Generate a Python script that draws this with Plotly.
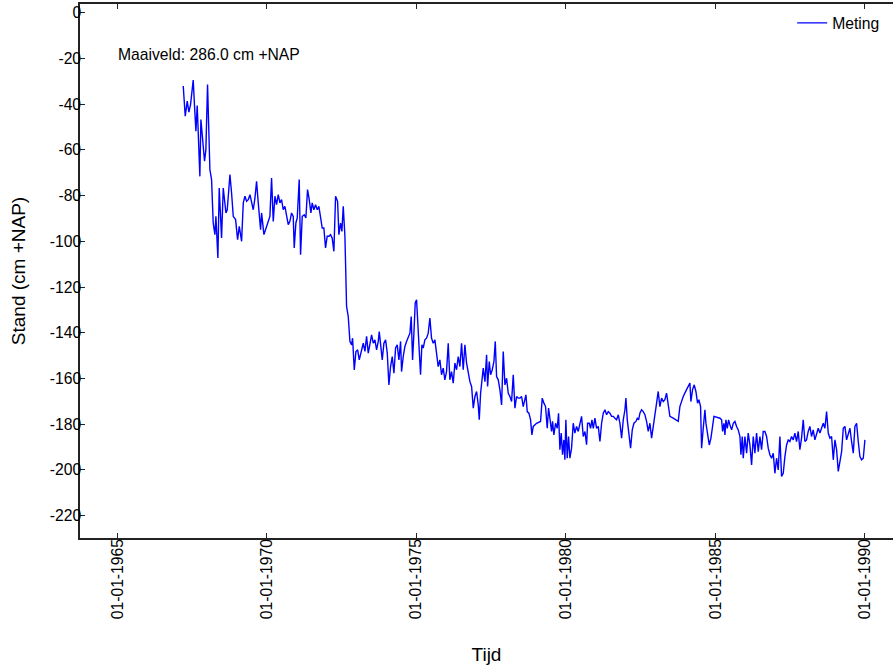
import datetime as dt
import plotly.graph_objects as go

years = [
    1967.202, 1967.269, 1967.336, 1967.391, 1967.447, 1967.536, 1967.581, 1967.626, 1967.670, 1967.759,
    1967.793, 1967.849, 1967.915, 1967.960, 1968.016, 1968.094, 1968.150, 1968.205, 1968.261, 1968.295,
    1968.361, 1968.406, 1968.484, 1968.540, 1968.595, 1968.629, 1968.673, 1968.763, 1968.818, 1968.874,
    1968.952, 1969.019, 1969.075, 1969.153, 1969.209, 1969.264, 1969.320, 1969.376, 1969.432, 1969.487,
    1969.543, 1969.599, 1969.654, 1969.710, 1969.788, 1969.822, 1969.900, 1969.989, 1970.100,
    1970.156, 1970.212, 1970.268, 1970.323, 1970.379, 1970.435, 1970.491, 1970.546, 1970.602, 1970.658,
    1970.714, 1970.769, 1970.825, 1970.881, 1970.914, 1970.970, 1971.015, 1971.081, 1971.126, 1971.182,
    1971.249, 1971.304, 1971.360, 1971.416, 1971.472, 1971.516, 1971.572, 1971.628, 1971.684, 1971.739,
    1971.795, 1971.851, 1971.906, 1971.962, 1972.018, 1972.074, 1972.129, 1972.185, 1972.241, 1972.297,
    1972.364, 1972.408, 1972.464, 1972.508, 1972.553, 1972.609, 1972.664, 1972.720, 1972.776, 1972.832,
    1972.865, 1972.921, 1972.977, 1973.033, 1973.088,
    1973.166, 1973.222, 1973.278, 1973.333, 1973.389, 1973.445, 1973.501, 1973.556, 1973.612, 1973.668,
    1973.724, 1973.757, 1973.802, 1973.857, 1973.913, 1973.969, 1974.025, 1974.080, 1974.136, 1974.192,
    1974.248, 1974.303, 1974.359, 1974.415, 1974.471, 1974.504, 1974.560, 1974.616, 1974.671, 1974.727,
    1974.783, 1974.827, 1974.872, 1974.917, 1974.961, 1975.006, 1975.050, 1975.095, 1975.139, 1975.184,
    1975.229, 1975.284, 1975.340, 1975.396, 1975.452, 1975.507, 1975.563, 1975.619, 1975.675, 1975.730,
    1975.786, 1975.842, 1975.898, 1975.953, 1976.009, 1976.065, 1976.120, 1976.176, 1976.232, 1976.288,
    1976.343, 1976.399, 1976.455, 1976.511, 1976.566, 1976.622, 1976.678, 1976.734, 1976.789, 1976.845,
    1976.901, 1976.957, 1977.012, 1977.068, 1977.101, 1977.146, 1977.202, 1977.235, 1977.291, 1977.347,
    1977.380, 1977.436, 1977.481, 1977.536, 1977.592, 1977.637, 1977.681, 1977.737, 1977.793, 1977.849,
    1977.904, 1977.960, 1978.016, 1978.072, 1978.127,
    1978.183, 1978.239, 1978.295, 1978.350, 1978.406, 1978.462, 1978.518, 1978.573, 1978.629, 1978.663,
    1978.707, 1978.763, 1978.819, 1978.863, 1978.908, 1979.019, 1979.153, 1979.209, 1979.265, 1979.320,
    1979.376, 1979.421, 1979.465, 1979.521, 1979.554, 1979.599, 1979.655, 1979.711, 1979.755, 1979.800,
    1979.844, 1979.889, 1979.933, 1979.967, 1980.000, 1980.045, 1980.090, 1980.134, 1980.190, 1980.246,
    1980.301, 1980.357, 1980.413, 1980.469, 1980.524, 1980.580, 1980.636, 1980.692, 1980.725, 1980.781,
    1980.825, 1980.870, 1980.915, 1980.970, 1981.026, 1981.082, 1981.137, 1981.193, 1981.249, 1981.305,
    1981.360, 1981.416, 1981.472, 1981.528, 1981.583, 1981.639, 1981.695, 1981.751, 1981.806, 1981.862,
    1981.918, 1981.974, 1982.007, 1982.052, 1982.107, 1982.163, 1982.219, 1982.275, 1982.342, 1982.386,
    1982.431, 1982.475, 1982.531, 1982.587, 1982.643, 1982.698, 1982.754, 1982.810, 1982.866, 1982.921,
    1982.977, 1983.033, 1983.088, 1983.144, 1983.200, 1983.256, 1983.311, 1983.367, 1983.423, 1983.479,
    1983.590, 1983.702, 1983.758, 1983.813, 1983.925, 1984.036, 1984.148,
    1984.181, 1984.237, 1984.292, 1984.348, 1984.404, 1984.448, 1984.504, 1984.538, 1984.593, 1984.649,
    1984.683, 1984.738, 1984.794, 1984.850, 1984.905, 1984.950, 1985.151, 1985.207, 1985.240, 1985.285,
    1985.318, 1985.351, 1985.396, 1985.441, 1985.485, 1985.541, 1985.597, 1985.652, 1985.708, 1985.764,
    1985.820, 1985.853, 1985.898, 1985.931, 1985.987, 1986.043, 1986.098, 1986.154, 1986.210, 1986.266,
    1986.321, 1986.377, 1986.433, 1986.489, 1986.544, 1986.600, 1986.656, 1986.712, 1986.767, 1986.823,
    1986.879, 1986.935, 1986.990, 1987.046, 1987.102, 1987.158, 1987.213, 1987.269, 1987.325, 1987.381,
    1987.436, 1987.492, 1987.548, 1987.603, 1987.659, 1987.715, 1987.771, 1987.826, 1987.882, 1987.938,
    1987.994, 1988.049, 1988.105, 1988.161, 1988.216, 1988.272, 1988.328, 1988.384, 1988.439, 1988.495,
    1988.551, 1988.607, 1988.662, 1988.718, 1988.774, 1988.830, 1988.885, 1988.941, 1988.997, 1989.053,
    1989.108, 1989.164, 1989.220, 1989.276, 1989.331, 1989.387, 1989.443, 1989.499, 1989.554, 1989.610,
    1989.666, 1989.722, 1989.777, 1989.833, 1989.889, 1989.945, 1990.000,
]

# Water level in cm +NAP
stand = [
    -32.1, -45.3, -38.7, -43.5, -40.2, -29.5, -40.9, -51.9, -40.6, -71.6,
    -46.7, -54.0, -65.0, -59.9, -31.4, -68.6, -73.0, -92.0, -97.1, -89.1,
    -107.3, -76.7, -98.6, -76.7, -83.2, -87.6, -86.2, -70.8, -78.9, -89.1,
    -90.5, -99.3, -93.5, -100.0, -83.2, -80.3, -82.5, -81.8, -79.6, -82.5,
    -86.2, -81.1, -73.8, -83.2, -94.9, -87.6, -97.1, -93.5, -89.1,
    -72.3, -91.3, -80.3, -84.0, -79.6, -83.2, -81.8, -86.2, -84.7, -89.8,
    -92.7, -91.3, -87.6, -89.1, -102.9, -92.0, -89.8, -73.0, -105.9, -89.1,
    -88.4, -89.8, -77.4, -81.8, -87.6, -83.2, -86.2, -84.0, -86.2, -84.7,
    -89.8, -94.2, -94.2, -102.9, -97.8, -97.8, -97.1, -98.6, -104.4, -80.3,
    -82.5, -97.1, -92.0, -95.7, -84.7, -97.8, -128.5, -132.9, -143.8, -145.3,
    -142.4, -156.3, -148.2, -147.5, -151.9,
    -146.7, -144.6, -148.2, -141.6, -148.9, -143.8, -140.9, -144.6, -143.1, -147.5,
    -143.8, -139.5, -146.7, -151.9, -144.6, -143.1, -148.9, -162.8, -154.8, -150.4,
    -157.7, -146.7, -145.3, -151.9, -143.8, -157.0, -150.4, -146.0, -143.8, -141.6,
    -140.2, -132.9, -151.9, -140.2, -127.0, -125.6, -135.1, -144.6, -158.4, -145.3,
    -146.7, -143.1, -142.4, -140.2, -133.6, -142.4, -144.6, -143.1, -149.7, -154.8,
    -151.9, -158.4, -155.5, -160.6, -157.0, -144.6, -160.6, -157.0, -162.1, -153.3,
    -156.2, -150.4, -154.8, -144.6, -156.2, -145.3, -153.3, -157.7, -161.4, -163.5,
    -173.0, -167.9, -165.7, -171.6, -178.1, -166.5, -159.2, -155.5, -161.4, -149.7,
    -163.5, -152.6, -158.4, -156.2, -152.6, -143.8, -159.2, -160.6, -165.0, -171.6,
    -148.2, -162.8, -159.9, -166.5, -167.9,
    -170.1, -158.4, -173.0, -167.9, -168.6, -168.6, -167.9, -172.3, -169.3, -167.2,
    -174.5, -175.2, -178.1, -184.7, -181.0, -179.6, -178.8, -168.6, -170.8, -172.3,
    -181.8, -173.0, -177.4, -183.2, -178.8, -184.7, -179.6, -181.8, -175.2, -191.2,
    -183.9, -193.4, -186.9, -195.6, -178.1, -194.9, -185.4, -194.9, -190.5, -179.6,
    -183.9, -181.0, -183.2, -180.3, -176.6, -185.4, -183.2, -189.0, -179.6, -179.6,
    -181.8, -178.1, -181.8, -177.4, -181.8, -181.0, -187.6, -179.6, -175.2, -173.7,
    -175.9, -174.5, -175.2, -176.6, -176.6, -177.4, -178.1, -175.9, -179.6, -186.1,
    -178.1, -173.7, -168.6, -178.1, -183.9, -190.5, -182.5, -179.6, -178.8, -177.4,
    -178.1, -175.2, -173.7, -174.5, -175.9, -178.8, -183.2, -179.6, -186.1, -179.6,
    -175.9, -170.8, -165.7, -172.3, -168.6, -170.1, -169.3, -166.4, -170.8, -176.6,
    -177.4, -178.1, -178.8, -172.3, -167.9, -164.9, -162.0,
    -170.1, -164.9, -162.8, -165.7, -170.8, -169.3, -172.3, -190.5, -181.8, -173.7,
    -179.6, -185.4, -189.1, -186.1, -181.0, -176.6, -177.4, -178.1, -183.2, -179.6,
    -184.7, -178.1, -181.8, -178.1, -180.3, -182.5, -179.6, -178.8, -181.0, -182.5,
    -185.4, -193.4, -185.4, -194.9, -185.4, -192.7, -183.9, -189.1, -197.8, -185.4,
    -192.7, -183.9, -192.0, -185.4, -191.2, -183.2, -183.2, -185.4, -190.5, -193.4,
    -194.9, -192.7, -201.5, -194.9, -200.0, -185.4, -202.9, -201.5, -194.2, -189.1,
    -186.9, -187.6, -185.4, -186.9, -183.9, -187.6, -183.2, -191.2, -186.1, -178.1,
    -187.6, -186.9, -183.2, -181.0, -185.4, -182.5, -186.9, -183.9, -181.8, -183.9,
    -181.8, -179.6, -181.8, -174.5, -183.9, -186.1, -185.4, -195.6, -186.9, -191.2,
    -200.7, -197.1, -192.0, -181.8, -181.0, -186.9, -184.7, -181.8, -187.6, -192.7,
    -181.0, -179.6, -187.6, -194.2, -195.6, -194.9, -186.9,
]

tick_years = [1965, 1970, 1975, 1980, 1985, 1990]
x_tick_labels = ["01-01-1965", "01-01-1970", "01-01-1975", "01-01-1980", "01-01-1985", "01-01-1990"]
y_ticks = [0, -20, -40, -60, -80, -100, -120, -140, -160, -180, -200, -220]
y_tick_labels = ["0", "-20", "-40", "-60", "-80", "-100", "-120", "-140", "-160", "-180", "-200", "-220"]


def to_date(y):
    yr = int(y)
    start = dt.datetime(yr, 1, 1)
    end = dt.datetime(yr + 1, 1, 1)
    return start + (end - start) * (y - yr)


dates = [to_date(y) for y in years]
tick_dates = [dt.datetime(y, 1, 1) for y in tick_years]

FONT = "Liberation Sans, Arial, sans-serif"
FS = 15.7

fig = go.Figure()
fig.add_trace(go.Scatter(
    x=dates, y=stand, mode="lines", name="Meting",
    line=dict(color="#0000ff", width=1.4),
))

fig.add_annotation(
    x=0.044, y=0.9045, xref="paper", yref="paper",
    text="Maaiveld: 286.0 cm +NAP", showarrow=False,
    xanchor="left", yanchor="middle",
    font=dict(family=FONT, size=FS, color="black"),
)

fig.update_layout(
    width=893, height=665,
    margin=dict(l=80, r=0, t=4, b=127, autoexpand=False),
    paper_bgcolor="white", plot_bgcolor="white",
    font=dict(family=FONT, size=FS, color="black"),
    showlegend=True,
    legend=dict(x=0.876, y=0.996, xanchor="left", yanchor="top",
                bgcolor="rgba(255,255,255,0)", borderwidth=0,
                font=dict(family=FONT, size=FS)),
    xaxis=dict(
        range=[to_date(1963.75), to_date(1990.94)],
        tickvals=tick_dates, ticktext=x_tick_labels, tickangle=-90,
        ticks="inside", ticklen=5, tickcolor="#222",
        ticklabelstandoff=-7,
        showline=True, linecolor="#222", linewidth=1.5, mirror="ticks",
        showgrid=False, zeroline=False, automargin=False,
        title=dict(text="Tijd", standoff=51),
    ),
    yaxis=dict(
        range=[-229.8, 3.8],
        tickvals=y_ticks, ticktext=y_tick_labels,
        ticks="inside", ticklen=5, tickcolor="#222",
        ticklabelstandoff=-6,
        showline=True, linecolor="#222", linewidth=1.5, mirror=False,
        showgrid=False, zeroline=False, automargin=False,
        title=dict(text="Stand (cm +NAP)", standoff=19),
    ),
)

fig.write_html("out.html", config={"displayModeBar": False},
               post_script="document.body.style.margin='0';")
